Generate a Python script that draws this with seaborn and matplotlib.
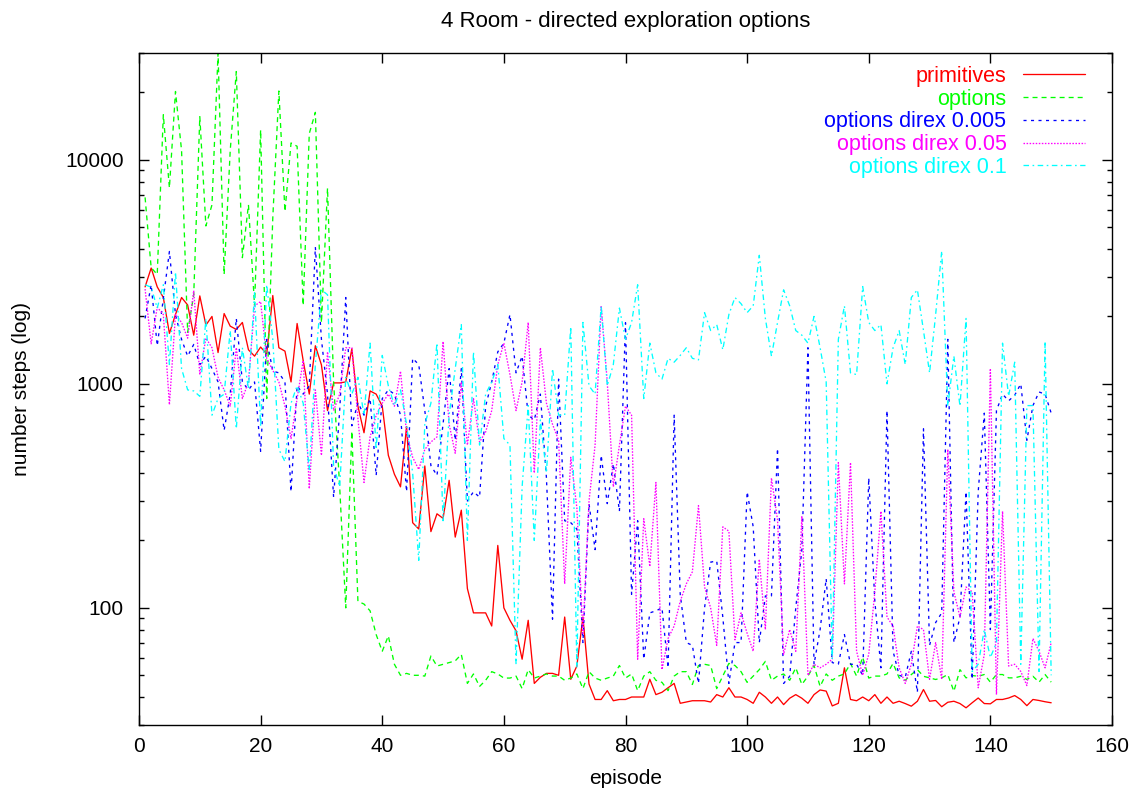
import numpy as np
import pandas as pd
import matplotlib
matplotlib.use("Agg")
import matplotlib.pyplot as plt
import seaborn as sns
from matplotlib.ticker import LogLocator, NullFormatter, FixedLocator, FixedFormatter

# ---------------- data ----------------
episodes = list(range(1, 151))

primitives = [
    2710, 3290, 2710, 2430, 1680, 2040, 2430, 2250, 1650, 2470, 1830, 2000, 1380, 2060, 1810, 1750, 1880, 1420, 1330, 1460,
    1360, 2480, 1450, 1400, 1020, 1860, 1270, 900, 1480, 1215, 760, 1010, 1010, 1020, 1435, 795, 605, 930, 900, 795,
    480, 395, 347, 645, 240, 225, 430, 219, 263, 251, 371, 207, 273, 122, 95, 95, 95, 83, 190, 100,
    88, 79, 59, 88, 46, 49, 51, 51, 50, 91, 48, 55, 91, 45.7, 39, 39, 42.7, 38.5, 39, 39,
    40, 40, 40, 48, 41, 42, 44, 46, 37.5, 38, 38.5, 38.5, 38.5, 38, 41, 40, 44, 40, 40, 39,
    37.5, 42, 40, 37.5, 40, 37, 39.5, 41, 39.5, 37.5, 41, 43, 42.5, 36.5, 37.5, 54, 39, 38.5, 40, 38.5,
    41, 37.5, 40, 37.5, 38.3, 37.4, 36.4, 38.3, 43.2, 38.3, 38.6, 36.2, 37.9, 38.3, 37.4, 35.8, 37.7, 39.6, 37.4, 37.3,
    39, 39, 39.6, 40.6, 39, 36.6, 39, 38.6, 38.1, 37.7,
]

options = [
    6800, 3300, 3080, 15900, 7500, 20200, 11000, 1700, 2500, 15600, 5070, 6300, 30000, 3080, 11000, 24800, 3660, 6300, 2240, 13600,
    860, 5500, 20300, 5880, 11900, 11500, 2240, 13100, 16300, 1875, 7480, 1020, 347, 100, 615, 107, 104, 97, 76, 64,
    75, 56, 50, 51, 50, 50, 49.6, 61, 55, 56, 57, 58, 62, 46, 50.7, 44.6, 47.5, 51.9, 50.7, 48.6,
    48.6, 49.6, 43.6, 53, 48.6, 49.6, 50.7, 49.6, 49.6, 47.5, 48.6, 50.7, 43.6, 51.9, 48.6, 47.5, 48.6, 49.6, 55.3, 48.6,
    50.7, 42.7, 49.6, 51.9, 47.5, 46.5, 42.7, 49.6, 51.9, 51.9, 45.5, 55.3, 56, 55.3, 43.6, 49.6, 56.5, 55.3, 51.9, 46.5,
    49.6, 53, 57.7, 47.5, 49.6, 50.7, 47.5, 54, 45.5, 49.6, 55.3, 44.6, 50.7, 47.5, 49.6, 50.7, 56.5, 49.6, 60.3, 48.6,
    49.6, 49.6, 50.7, 56.5, 48.7, 47.5, 50.4, 53, 49.5, 48.7, 47.9, 48.7, 50.4, 42.4, 53, 48.7, 49.9, 49.5, 50.4, 46.6,
    50.4, 50.4, 48.7, 48.7, 49.5, 47.9, 49.5, 46.6, 50.4, 46.6,
]

direx_0005 = [
    1960, 2770, 1480, 2400, 3900, 2040, 1580, 1330, 1500, 1220, 1330, 1170, 1020, 620, 900, 1960, 1020, 940, 1020, 500,
    1580, 1140, 1120, 1020, 330, 980, 900, 980, 4080, 1580, 900, 312, 760, 2430, 650, 825, 725, 860, 390, 860,
    940, 900, 725, 330, 1300, 1220, 760, 432, 390, 662, 1170, 560, 1170, 300, 330, 312, 795, 1020, 1390, 1520,
    2040, 1120, 1330, 725, 690, 900, 380, 89, 1050, 245, 240, 225, 70, 292, 182, 480, 292, 440, 270, 1875,
    115, 245, 59, 95, 97, 100, 54, 725, 115, 70, 68, 46, 100, 160, 162, 91, 46, 70, 70, 330,
    230, 70, 113, 113, 515, 46, 49.5, 100, 182, 1450, 56, 80, 135, 57, 56, 76, 56, 56, 50, 380,
    107, 54, 760, 64, 50, 49, 64, 42, 630, 68, 86, 95, 1580, 70, 91, 330, 48, 330, 740, 80,
    760, 900, 840, 890, 1000, 560, 800, 920, 900, 740,
]

direx_005 = [
    2650, 1510, 2200, 2040, 807, 2040, 1880, 1600, 2610, 1100, 1600, 1450, 1070, 940, 795, 1450, 860, 1020, 2230, 2330,
    1300, 1150, 1020, 795, 570, 860, 1270, 340, 940, 480, 1390, 760, 900, 1450, 1450, 700, 363, 580, 725, 820,
    900, 795, 1140, 600, 470, 415, 510, 550, 580, 1545, 660, 490, 1020, 533, 860, 550, 610, 760, 1220, 1520,
    1100, 760, 1020, 1880, 400, 1450, 820, 660, 560, 128, 470, 280, 77, 300, 533, 2230, 1020, 347, 533, 795,
    725, 59, 250, 153, 363, 53, 73, 83, 107, 128, 145, 286, 124, 100, 68, 230, 220, 72, 95, 77,
    64, 165, 80, 380, 247, 62, 80, 64, 257, 50, 56, 54, 56, 59, 445, 128, 445, 64, 50, 62,
    118, 270, 91, 83, 54, 46, 56, 83, 80, 48, 70, 48, 510, 118, 91, 124, 118, 44, 62, 1170,
    41, 270, 55, 56, 52, 45, 73, 64, 54, 70,
]

direx_01 = [
    2770, 2700, 2180, 2770, 1220, 3160, 1170, 940, 930, 880, 1960, 725, 860, 900, 1730, 630, 1450, 950, 2550, 645,
    2770, 1580, 510, 450, 820, 980, 820, 410, 1220, 2630, 2500, 430, 347, 1070, 900, 1070, 725, 1520, 510, 1340,
    980, 800, 940, 660, 400, 163, 660, 820, 1520, 245, 725, 1170, 1840, 200, 1390, 533, 900, 1020, 1220, 570,
    533, 56, 347, 800, 200, 690, 400, 1170, 725, 725, 1800, 54, 1880, 980, 900, 2230, 980, 1220, 2180, 1580,
    1880, 2770, 860, 1520, 1120, 1050, 1300, 1250, 1340, 1450, 1300, 1280, 2080, 1730, 1840, 1420, 2040, 2430, 2280, 2080,
    2230, 3750, 1960, 1330, 1880, 2630, 2230, 1730, 1650, 1520, 2000, 1450, 1020, 59, 1580, 2230, 1120, 1100, 2720, 1880,
    1730, 1840, 1000, 1450, 1730, 1220, 2430, 2630, 1730, 1120, 2040, 3920, 795, 1330, 795, 1960, 52, 56, 80, 60,
    70, 1520, 880, 1250, 56, 800, 800, 52, 1550, 50,
]

series_names = ["primitives", "options", "options direx 0.005", "options direx 0.05", "options direx 0.1"]
series_values = [primitives, options, direx_0005, direx_005, direx_01]
colors = ["#ff0000", "#00ff00", "#0000ff", "#ff00ff", "#00ffff"]
dash_styles = ["-", (0, (3.6, 2.9)), (0, (2.2, 3.2)), (0, (1.1, 1.1)), (0, (4.0, 2.5, 1.2, 2.5))]

title_text = "4 Room - directed exploration options"
x_label = "episode"
y_label = "number steps (log)"
x_ticks = [0, 20, 40, 60, 80, 100, 120, 140, 160]
y_ticks = [100, 1000, 10000]
y_tick_labels = ["100", "1000", "10000"]

# ---------------- style ----------------
sns.set_theme(style="ticks")
plt.rcParams["font.family"] = ["Liberation Sans", "DejaVu Sans"]
plt.rcParams["lines.scale_dashes"] = False

W, H = 1143, 799
fig = plt.figure(figsize=(W / 100, H / 100), dpi=100)
L, R, T, B = 139, 1112, 53, 725
ax = fig.add_axes([L / W, 1 - B / H, (R - L) / W, (B - T) / H])

for name, vals, col, ls in zip(series_names, series_values, colors, dash_styles):
    df = pd.DataFrame({"episode": episodes, "steps": vals})
    sns.lineplot(data=df, x="episode", y="steps", ax=ax, color=col, linestyle=ls,
                 linewidth=0.95, label=name, estimator=None, sort=False)

ax.set_yscale("log")
ax.set_xlim(0, 160)
ax.set_ylim(30, 30000)
ax.xaxis.set_major_locator(FixedLocator(x_ticks))
ax.yaxis.set_major_locator(FixedLocator(y_ticks))
ax.yaxis.set_major_formatter(FixedFormatter(y_tick_labels))
ax.yaxis.set_minor_locator(LogLocator(base=10, subs=np.arange(2, 10)))
ax.yaxis.set_minor_formatter(NullFormatter())

for s in ax.spines.values():
    s.set_visible(True)
    s.set_color("black")
    s.set_linewidth(1.0)

ax.tick_params(which="both", direction="in", top=True, right=True, color="black")
ax.tick_params(which="major", length=7, width=1.0, labelsize=15, labelcolor="black")
ax.tick_params(which="minor", length=3.5, width=1.0)
ax.tick_params(axis="y", which="major", pad=11)
ax.tick_params(axis="x", which="major", pad=9)

ax.set_xlabel(x_label, fontsize=15, color="black")
ax.set_ylabel(y_label, fontsize=15, color="black")
ax.xaxis.label.set_va("center")
ax.yaxis.label.set_va("center")
ax.yaxis.label.set_ha("center")
ax.xaxis.set_label_coords(0.5, (B - 779) / (B - T))
ax.yaxis.set_label_coords((22 - L) / (R - L), 0.5)

fig.text((L + R) / 2 / W, 1 - 21 / H, title_text, ha="center", va="center", fontsize=16, color="black")

leg = ax.legend(loc="upper right", bbox_to_anchor=(1085 / W, 1 - 66 / H), bbox_transform=fig.transFigure,
                frameon=False, markerfirst=False, fontsize=15.5, handlelength=2.9, handletextpad=0.75,
                labelspacing=0.08, borderpad=0, borderaxespad=0)
for txt, col in zip(leg.get_texts(), colors):
    txt.set_color(col)

fig.savefig("out.png", dpi=100, facecolor="white")
